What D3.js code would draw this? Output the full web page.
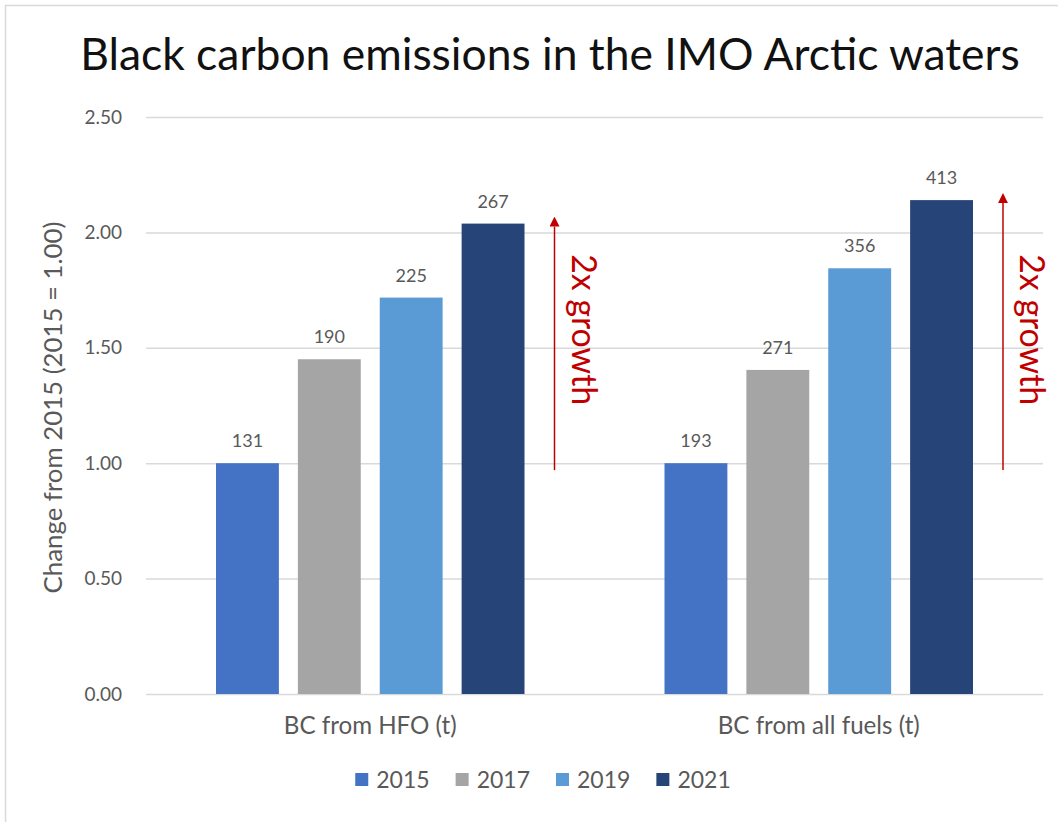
<!DOCTYPE html>
<html>
<head>
<meta charset="utf-8">
<script src="https://cdn.jsdelivr.net/npm/d3@7"></script>
<style>
  html, body { margin: 0; padding: 0; background: #fff; }
  svg { display: block; }
  text { font-family: Lato, "Open Sans", "Liberation Sans", sans-serif; }
</style>
</head>
<body>
<svg id="chart" width="1058" height="822"></svg>
<script>
// ---- data ----
const title = "Black carbon emissions in the IMO Arctic waters";
const yAxisTitle = "Change from 2015 (2015 = 1.00)";
const categories = ["BC from HFO (t)", "BC from all fuels (t)"];
const years = ["2015", "2017", "2019", "2021"];
const hfoTonnes = [131, 190, 225, 267];
const allFuelsTonnes = [193, 271, 356, 413];
const yTicks = [0, 0.5, 1.0, 1.5, 2.0, 2.5];
const annotationText = "2x growth";
const colors = ["#4472C4", "#A5A5A5", "#5B9BD5", "#264478"];

const seriesTonnes = [hfoTonnes, allFuelsTonnes];
const rows = categories.map((c, i) => ({
  category: c,
  values: years.map((y, j) => ({
    year: y,
    tonnes: seriesTonnes[i][j],
    index: seriesTonnes[i][j] / seriesTonnes[i][0]
  }))
}));

// ---- layout ----
const svg = d3.select("#chart");
const plot = { left: 146, right: 1043, top: 117, bottom: 694 };

const y = d3.scaleLinear().domain([0, 2.5]).range([plot.bottom, plot.top]);
const x0 = d3.scaleBand().domain(categories).range([plot.left, plot.right]).paddingInner(0).paddingOuter(0);
const groupPad = 70;
const x1 = d3.scaleBand().domain(years).range([groupPad, x0.bandwidth() - groupPad]).paddingInner(0.232).paddingOuter(0);
const color = d3.scaleOrdinal().domain(years).range(colors);

function fitFont(sel, target) {
  const node = sel.node();
  const size = parseFloat(sel.attr("font-size"));
  const w = node.getComputedTextLength();
  sel.attr("font-size", (size * target / w).toFixed(2));
}

// border
svg.append("rect").attr("x", 5.5).attr("y", 5.5).attr("width", 1100).attr("height", 900)
  .attr("fill", "none").attr("stroke", "#d9d9d9").attr("stroke-width", 1.5);

// title
const t = svg.append("text").attr("x", 550).attr("y", 70).attr("text-anchor", "middle")
  .attr("font-size", 36).attr("fill", "#111").text(title);
fitFont(t, 940);

// gridlines + y axis
const yAxis = d3.axisLeft(y).tickValues(yTicks).tickFormat(d3.format(".2f"))
  .tickSize(-(plot.right - plot.left)).tickPadding(24);
const gy = svg.append("g").attr("transform", `translate(${plot.left},0)`).call(yAxis);
gy.select(".domain").remove();
gy.selectAll(".tick line").attr("stroke", "#d9d9d9").attr("stroke-width", 1.5);
gy.selectAll(".tick text").attr("fill", "#595959").attr("font-size", 19)
  .attr("font-family", "Lato, 'Open Sans', sans-serif");

// y axis title
const yt = svg.append("text").attr("transform", `translate(62,${(plot.top + plot.bottom) / 2 + 2}) rotate(-90)`)
  .attr("text-anchor", "middle").attr("font-size", 20).attr("fill", "#595959").text(yAxisTitle);
fitFont(yt, 372);

// bars
const groups = svg.append("g").selectAll("g").data(rows).join("g")
  .attr("transform", d => `translate(${x0(d.category)},0)`);

groups.selectAll("rect").data(d => d.values).join("rect")
  .attr("x", d => x1(d.year))
  .attr("y", d => y(d.index))
  .attr("width", x1.bandwidth())
  .attr("height", d => y(0) - y(d.index))
  .attr("fill", d => color(d.year));

groups.selectAll("text.val").data(d => d.values).join("text").attr("class", "val")
  .attr("x", d => x1(d.year) + x1.bandwidth() / 2)
  .attr("y", d => y(d.index) - 16)
  .attr("text-anchor", "middle").attr("font-size", 18).attr("fill", "#595959")
  .text(d => d.tonnes);

// category labels
svg.append("g").selectAll("text").data(categories).join("text")
  .attr("x", d => x0(d) + x0.bandwidth() / 2)
  .attr("y", 734)
  .attr("text-anchor", "middle").attr("font-size", 21).attr("fill", "#595959")
  .text(d => d)
  .each(function(d, i) { if (i === 0) fitFont(d3.select(this), 173); });
// apply same size to both category labels
const catSize = svg.selectAll("g text").filter(function(d){ return d === categories[0]; }).attr("font-size");
svg.selectAll("g text").filter(function(d){ return categories.includes(d); }).attr("font-size", catSize);

// annotation arrows
const defs = svg.append("defs");
defs.append("marker").attr("id", "arrow").attr("viewBox", "0 0 10 10")
  .attr("refX", 5).attr("refY", 10).attr("markerWidth", 10).attr("markerHeight", 10)
  .attr("markerUnits", "userSpaceOnUse").attr("orient", "0")
  .append("path").attr("d", "M0,10 L5,0 L10,10 Z").attr("fill", "#C00000");

rows.forEach(r => {
  const last = r.values[r.values.length - 1];
  const barRight = x0(r.category) + x1(last.year) + x1.bandwidth();
  const ax = barRight + 30;
  svg.append("line")
    .attr("x1", ax).attr("x2", ax)
    .attr("y1", y(0.97)).attr("y2", y(last.index) + 3)
    .attr("stroke", "#C00000").attr("stroke-width", 1.5)
    .attr("marker-end", "url(#arrow)");
  const at = svg.append("text")
    .attr("transform", `translate(${barRight + 47},${y(1.0) - 58}) rotate(90)`)
    .attr("text-anchor", "end").attr("font-size", 30).attr("fill", "#C00000")
    .text(annotationText);
  fitFont(at, 151);
});

// legend
const legend = svg.append("g");
const items = legend.selectAll("g").data(years).join("g");
items.append("rect").attr("width", 13).attr("height", 13).attr("y", -7).attr("fill", d => color(d));
items.append("text").attr("x", 21).attr("y", 8).attr("font-size", 23).attr("fill", "#595959").text(d => d);
let cx = 0;
items.each(function() {
  const g = d3.select(this);
  g.attr("transform", `translate(${cx},0)`);
  cx += 21 + g.select("text").node().getComputedTextLength() + 26;
});
const legendWidth = cx - 26;
legend.attr("transform", `translate(${543 - legendWidth / 2},780)`);
</script>
</body>
</html>
